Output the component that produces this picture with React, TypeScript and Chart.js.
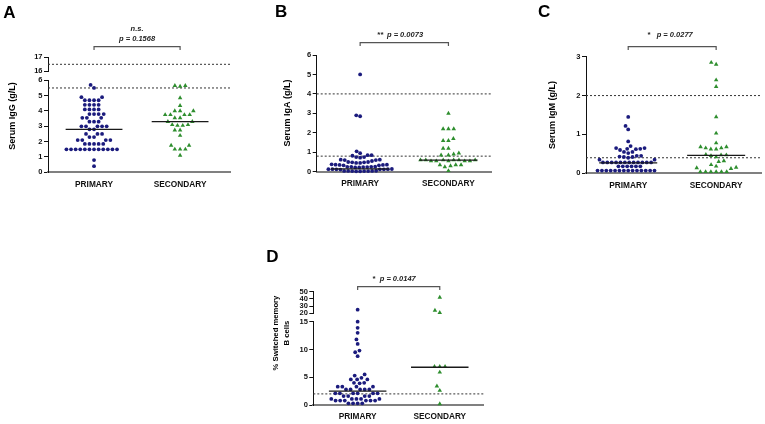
import React, { useEffect, useRef } from 'react';
import { Chart, registerables } from 'chart.js';
Chart.register(...registerables);

const FONT = '"Liberation Sans", Arial, Helvetica, sans-serif';
const NAVY = '#1b1b7d';
const GREEN = '#2e8e2e';

const categories = ['PRIMARY', 'SECONDARY'];

// ---------- Panel A: Serum IgG ----------
const igGPrimary = [5.7, 5.5, 4.9, 4.9, 4.7, 4.7, 4.7, 4.7, 4.4, 4.4, 4.4, 4.4, 4.1, 4.1, 4.1, 4.1,
  3.8, 3.8, 3.8, 3.8, 3.55, 3.55, 3.55, 3.3, 3.3, 3.3, 3.0, 3.0, 3.0, 3.0, 3.0, 2.8, 2.8,
  2.5, 2.5, 2.5, 2.3, 2.3, 2.1, 2.1, 2.1, 2.1, 1.85, 1.85, 1.85, 1.85, 1.85,
  1.5, 1.5, 1.5, 1.5, 1.5, 1.5, 1.5, 1.5, 1.5, 1.5, 1.5, 1.5, 0.8, 0.4];
const igGSecondary = [5.65, 5.6, 5.65, 4.85, 4.35, 4.0, 4.0, 4.0, 3.75, 3.75, 3.75, 3.75, 3.55, 3.55,
  3.3, 3.3, 3.1, 3.1, 3.05, 3.05, 2.75, 2.75, 2.4, 1.75, 1.75, 1.5, 1.5, 1.5, 1.1];
const igGMedians = [2.8, 3.3];
const igGRefLines = [5.5, 16.5];
const igGLowerTicks = [0, 1, 2, 3, 4, 5, 6];
const igGUpperTicks = [16, 17];
const igGTitle = ['Serum IgG (g/L)'];
const igGSig = 'n.s.';
const igGP = 'p = 0.1568';

// ---------- Panel B: Serum IgA ----------
const igAPrimary = [5.0, 2.9, 2.85, 1.05, 0.95, 0.85, 0.85, 0.82, 0.75, 0.75, 0.72,
  0.62, 0.62, 0.6, 0.6, 0.55,
  0.5, 0.5, 0.48, 0.48, 0.45, 0.45,
  0.38, 0.36, 0.36, 0.35, 0.35, 0.33, 0.33,
  0.26, 0.25, 0.25, 0.25, 0.24, 0.24, 0.22, 0.22,
  0.14, 0.13, 0.13, 0.13, 0.12, 0.12, 0.12, 0.11,
  0.05, 0.04, 0.04, 0.04, 0.03, 0.03, 0.03, 0.02, 0.02];
const igASecondary = [3.0, 2.2, 2.2, 2.2, 1.7, 1.6, 1.6, 1.2, 1.2, 0.95, 0.9, 0.85, 0.85,
  0.6, 0.6, 0.6, 0.6, 0.55, 0.55, 0.55, 0.55, 0.55, 0.6, 0.6, 0.35, 0.35, 0.35, 0.3, 0.25, 0.05];
const igAMedians = [0.15, 0.6];
const igARefLines = [4.0, 0.8];
const igATicks = [0, 1, 2, 3, 4, 5, 6];
const igATitle = ['Serum IgA (g/L)'];
const igASig = '**';
const igAP = 'p = 0.0073';

// ---------- Panel C: Serum IgM ----------
const igMPrimary = [1.45, 1.22, 1.13, 0.82, 0.7, 0.65, 0.65, 0.63, 0.63, 0.62, 0.6, 0.55, 0.55, 0.52,
  0.45, 0.45, 0.43, 0.42, 0.42, 0.4, 0.35, 0.35,
  0.28, 0.28, 0.28, 0.28, 0.28, 0.28, 0.28, 0.28, 0.28, 0.28, 0.28, 0.28,
  0.18, 0.18, 0.18, 0.18, 0.18, 0.18,
  0.07, 0.07, 0.07, 0.07, 0.07, 0.07, 0.07, 0.07, 0.07, 0.07, 0.07, 0.07, 0.07, 0.07];
const igMSecondary = [2.85, 2.8, 2.4, 2.23, 1.45, 1.03, 0.78, 0.68, 0.68, 0.65, 0.65, 0.62, 0.62,
  0.48, 0.47, 0.47, 0.45, 0.42, 0.32, 0.3, 0.22, 0.15, 0.14, 0.12, 0.18,
  0.04, 0.04, 0.04, 0.04, 0.04, 0.04];
const igMMedians = [0.27, 0.46];
const igMRefLines = [2.0, 0.4];
const igMTicks = [0, 1, 2, 3];
const igMTitle = ['Serum IgM (g/L)'];
const igMSig = '*';
const igMP = 'p = 0.0277';

// ---------- Panel D: % switched memory B cells ----------
const smbPrimary = [25, 15, 13.9, 13, 11.8, 11, 9.8, 9.5, 8.8, 5.5, 5.3, 4.9, 4.6, 4.6, 4.6,
  4.0, 4.0, 3.9, 3.3, 3.3, 3.3, 3.3, 2.8, 2.8, 2.8, 2.8, 2.8,
  2.1, 2.1, 2.1, 2.1, 2.1, 2.1, 1.6, 1.6, 1.6, 1.6, 1.1, 1.1, 1.1, 1.1, 1.1,
  0.8, 0.8, 0.8, 0.8, 0.8, 0.8, 0.3, 0.3, 0.3, 0.3];
const smbSecondary = [42, 24, 21, 6.9, 6.9, 6.9, 5.9, 3.4, 2.6, 0.2];
const smbMedians = [2.5, 6.8];
const smbRefLines = [2.0];
const smbLowerTicks = [0, 5, 10, 15];
const smbUpperTicks = [20, 30, 40, 50];
const smbTitle = ['% Switched memory', 'B cells'];
const smbSig = '*';
const smbP = 'p = 0.0147';

type Seg = { min: number; max: number; ticks: number[]; weight: number };
type Panel = {
  key: string;
  letter: string;
  box: { left: number; top: number; width: number; height: number };
  plot: { left: number; top: number; right: number; bottom: number };
  xRange: [number, number];
  lower: Seg;
  upper?: Seg;
  gap?: number;
  primary: number[];
  secondary: number[];
  dotGap: number;
  medians: number[];
  refLines: number[];
  medianHalf: number;
  letterPos: [number, number];
  title: string[];
  titlePos: [number, number];
  titleFont: number;
  titleGap: number;
  bracketY: number;
  sig: string;
  pText: string;
  twoLineSig: boolean;
  sigY: number;
  starRight: number;
  pLeft: number;
};

const panels: Panel[] = [
  {
    key: 'A', letter: 'A',
    box: { left: 0, top: 0, width: 255, height: 212 },
    plot: { left: 48, top: 57.3, right: 230, bottom: 172.3 },
    xRange: [0.465, 2.58],
    lower: { min: 0, max: 6, ticks: igGLowerTicks, weight: 92 },
    gap: 9,
    upper: { min: 16, max: 17, ticks: igGUpperTicks, weight: 14 },
    primary: igGPrimary, secondary: igGSecondary, dotGap: 4.6, medians: igGMedians, refLines: igGRefLines,
    medianHalf: 0.33,
    letterPos: [3.3, 17.7], title: igGTitle, titlePos: [13, 116], titleFont: 9, titleGap: 11,
    bracketY: 46.7, sig: igGSig, pText: igGP, twoLineSig: true, sigY: 29, starRight: 0, pLeft: 0,
  },
  {
    key: 'B', letter: 'B',
    box: { left: 255, top: 0, width: 255, height: 212 },
    plot: { left: 61.7, top: 55, right: 236.7, bottom: 171.7 },
    xRange: [0.508, 2.49],
    lower: { min: 0, max: 6, ticks: igATicks, weight: 1 },
    primary: igAPrimary, secondary: igASecondary, dotGap: 4.0, medians: igAMedians, refLines: igARefLines,
    medianHalf: 0.33,
    letterPos: [20, 17.3], title: igATitle, titlePos: [33, 113], titleFont: 9, titleGap: 11,
    bracketY: 42.7, sig: igASig, pText: igAP, twoLineSig: false, sigY: 34.7, starRight: -20.7, pLeft: -17.3,
  },
  {
    key: 'C', letter: 'C',
    box: { left: 510, top: 0, width: 255, height: 212 },
    plot: { left: 76, top: 56.7, right: 251.7, bottom: 173.3 },
    xRange: [0.52, 2.51],
    lower: { min: 0, max: 3, ticks: igMTicks, weight: 1 },
    primary: igMPrimary, secondary: igMSecondary, dotGap: 4.4, medians: igMMedians, refLines: igMRefLines,
    medianHalf: 0.33,
    letterPos: [28, 17], title: igMTitle, titlePos: [42.7, 115], titleFont: 9, titleGap: 11,
    bracketY: 46.7, sig: igMSig, pText: igMP, twoLineSig: false, sigY: 34.7, starRight: -21.5, pLeft: -15.5,
  },
  {
    key: 'D', letter: 'D',
    box: { left: 250, top: 212, width: 270, height: 212 },
    plot: { left: 63.3, top: 79.7, right: 233.3, bottom: 193 },
    xRange: [0.46, 2.53],
    lower: { min: 0, max: 15, ticks: smbLowerTicks, weight: 83.3 },
    gap: 8.4,
    upper: { min: 20, max: 50, ticks: smbUpperTicks, weight: 21.6 },
    primary: smbPrimary, secondary: smbSecondary, dotGap: 4.6, medians: smbMedians, refLines: smbRefLines,
    medianHalf: 0.35,
    letterPos: [16.3, 49.7], title: smbTitle, titlePos: [31.5, 121], titleFont: 7.7, titleGap: 11,
    bracketY: 74.7, sig: smbSig, pText: smbP, twoLineSig: false, sigY: 67, starRight: -23, pLeft: -19,
  },
];

function segPx(p: Panel, v: number): number {
  const plotH = p.plot.bottom - p.plot.top;
  const total = p.lower.weight + (p.gap || 0) + (p.upper ? p.upper.weight : 0);
  const lowerH = (plotH * p.lower.weight) / total;
  if (!p.upper || v <= p.lower.max) return ((v - p.lower.min) / (p.lower.max - p.lower.min)) * lowerH;
  const gapH = (plotH * (p.gap || 0)) / total;
  const upH = (plotH * p.upper.weight) / total;
  return lowerH + gapH + ((v - p.upper.min) / (p.upper.max - p.upper.min)) * upH;
}

// Beeswarm: horizontal pixel offsets so that markers do not overlap
function swarmOffsets(values: number[], toPx: (v: number) => number, d: number): number[] {
  const order = values.map((_, i) => i).sort((a, b) => values[a] - values[b]);
  const out = new Array(values.length).fill(0);
  const placed: { x: number; y: number }[] = [];
  const d2 = d * d;
  for (const i of order) {
    const y = toPx(values[i]);
    const near = placed.filter((q) => Math.abs(q.y - y) < d);
    const cands = [0];
    for (const q of near) {
      const dx = Math.sqrt(d2 - (q.y - y) * (q.y - y));
      cands.push(q.x + dx, q.x - dx);
    }
    cands.sort((a, b) => Math.abs(a) - Math.abs(b) || a - b);
    let x = 0;
    for (const c of cands) {
      if (near.every((q) => (q.x - c) * (q.x - c) + (q.y - y) * (q.y - y) >= d2 - 1e-6)) { x = c; break; }
    }
    placed.push({ x, y });
    out[i] = x;
  }
  return out;
}

function makeAnnot(p: Panel) {
  return {
    id: 'annot' + p.key,
    afterDraw(chart: any) {
      const ctx: CanvasRenderingContext2D = chart.ctx;
      const xs = chart.scales.x;
      ctx.save();
      ctx.fillStyle = '#000';
      ctx.font = `bold 17px ${FONT}`;
      ctx.textAlign = 'left';
      ctx.textBaseline = 'alphabetic';
      ctx.fillText(p.letter, p.letterPos[0], p.letterPos[1]);
      ctx.save();
      ctx.translate(p.titlePos[0], p.titlePos[1]);
      ctx.rotate(-Math.PI / 2);
      ctx.font = `bold ${p.titleFont}px ${FONT}`;
      ctx.textAlign = 'center';
      ctx.textBaseline = 'middle';
      p.title.forEach((t, i) => ctx.fillText(t, 0, (i - (p.title.length - 1) / 2) * p.titleGap));
      ctx.restore();
      const x1 = xs.getPixelForValue(1);
      const x2 = xs.getPixelForValue(2);
      ctx.strokeStyle = '#555';
      ctx.lineWidth = 1.2;
      ctx.beginPath();
      ctx.moveTo(x1, p.bracketY + 3.3);
      ctx.lineTo(x1, p.bracketY);
      ctx.lineTo(x2, p.bracketY);
      ctx.lineTo(x2, p.bracketY + 3.3);
      ctx.stroke();
      const cx = (x1 + x2) / 2;
      ctx.textBaseline = 'middle';
      ctx.fillStyle = '#222';
      if (p.twoLineSig) {
        ctx.textAlign = 'center';
        ctx.font = `italic bold 7.5px ${FONT}`;
        ctx.fillText(p.sig, cx, p.sigY);
        ctx.fillText(p.pText, cx, p.sigY + 9.5);
      } else {
        ctx.textAlign = 'right';
        ctx.font = `bold 8px ${FONT}`;
        ctx.fillText(p.sig, cx + p.starRight, p.sigY);
        ctx.textAlign = 'left';
        ctx.font = `italic bold 7.5px ${FONT}`;
        ctx.fillText(p.pText, cx + p.pLeft, p.sigY);
      }
      ctx.restore();
    },
  };
}

function buildConfig(p: Panel): any {
  const plotW = p.plot.right - p.plot.left;
  const pxPerX = plotW / (p.xRange[1] - p.xRange[0]);
  const toPx = (v: number) => segPx(p, v);
  const mk = (vals: number[], cat: number, d: number) => {
    const offs = swarmOffsets(vals, toPx, d);
    return vals.map((v, i) => ({ x: cat + offs[i] / pxPerX, y: v }));
  };
  const prim = mk(p.primary, 1, p.dotGap);
  const sec = mk(p.secondary, 2, 5.3);
  const isUp = (v: number) => !!p.upper && v > p.lower.max;

  const datasets: any[] = [];
  p.medians.forEach((m, i) => {
    datasets.push({
      data: [{ x: i + 1 - p.medianHalf, y: m }, { x: i + 1 + p.medianHalf, y: m }],
      showLine: true, pointRadius: 0, borderColor: '#1a1a1a', borderWidth: 1.3,
      yAxisID: 'y', clip: false,
    });
  });
  const pointDs = (pts: any[], up: boolean, color: string, style: string, r: number) => ({
    data: pts.filter((q) => isUp(q.y) === up),
    pointStyle: style, pointRadius: r, backgroundColor: color, borderColor: color, borderWidth: 0,
    yAxisID: up ? 'yTop' : 'y', clip: false,
  });
  datasets.push(pointDs(prim, false, NAVY, 'circle', 1.9));
  datasets.push(pointDs(sec, false, GREEN, 'triangle', 2.6));
  if (p.upper) {
    datasets.push(pointDs(prim, true, NAVY, 'circle', 1.9));
    datasets.push(pointDs(sec, true, GREEN, 'triangle', 2.6));
  }
  p.refLines.forEach((r) => {
    datasets.push({
      data: [{ x: p.xRange[0], y: r }, { x: p.xRange[1], y: r }],
      showLine: true, pointRadius: 0, borderColor: '#333', borderWidth: 1, borderDash: [2, 2],
      yAxisID: isUp(r) ? 'yTop' : 'y', clip: false,
    });
  });

  const tickFont = { family: FONT, size: 7.5, weight: 'bold' as const };
  const yAxis = (seg: Seg, extra: any = {}) => ({
    type: 'linear', position: 'left', min: seg.min, max: seg.max,
    afterBuildTicks: (s: any) => { s.ticks = seg.ticks.map((v) => ({ value: v })); },
    afterFit: (s: any) => { s.width = p.plot.left; },
    grid: { display: true, drawOnChartArea: false, drawTicks: true, tickLength: 4, color: '#111', lineWidth: 1 },
    border: { display: true, color: '#111', width: 1 },
    ticks: { font: tickFont, color: '#111', padding: 1.5, autoSkip: false },
    ...extra,
  });

  const scales: any = {
    x: {
      type: 'linear', position: 'bottom', min: p.xRange[0], max: p.xRange[1],
      afterBuildTicks: (s: any) => { s.ticks = categories.map((_, i) => ({ value: i + 1 })); },
      afterFit: (s: any) => { s.height = p.box.height - p.plot.bottom; },
      grid: { display: false, drawTicks: false },
      border: { display: true, color: '#808080', width: 2 },
      ticks: {
        callback: (v: any) => categories[Math.round(Number(v)) - 1] ?? '',
        font: { family: FONT, size: 8.3, weight: 'bold' }, color: '#111', padding: 7,
        maxRotation: 0, autoSkip: false,
      },
    },
  };
  if (p.upper) {
    scales.y = yAxis(p.lower, { stack: 'ys', stackWeight: p.lower.weight });
    scales.yGap = {
      type: 'linear', position: 'left', min: 0, max: 1, stack: 'ys', stackWeight: p.gap,
      afterBuildTicks: (s: any) => { s.ticks = []; },
      afterFit: (s: any) => { s.width = p.plot.left; },
      grid: { display: false, drawTicks: false }, border: { display: false },
      ticks: { display: false },
    };
    scales.yTop = yAxis(p.upper, { stack: 'ys', stackWeight: p.upper.weight });
  } else {
    scales.y = yAxis(p.lower);
  }

  return {
    type: 'scatter',
    data: { datasets },
    options: {
      animation: false, responsive: false, devicePixelRatio: 1, events: [],
      layout: { padding: { left: 0, top: p.plot.top, right: p.box.width - p.plot.right, bottom: 0 } },
      plugins: { legend: { display: false }, tooltip: { enabled: false } },
      scales,
    },
    plugins: [makeAnnot(p)],
  };
}

function PanelChart({ p }: { p: Panel }) {
  const ref = useRef<HTMLCanvasElement | null>(null);
  useEffect(() => {
    if (!ref.current) return;
    const chart = new Chart(ref.current, buildConfig(p));
    return () => chart.destroy();
  }, [p]);
  return (
    <canvas
      ref={ref}
      width={p.box.width}
      height={p.box.height}
      style={{ position: 'absolute', left: p.box.left, top: p.box.top, width: p.box.width, height: p.box.height }}
    />
  );
}

export default function App() {
  return (
    <div style={{ position: 'fixed', left: 0, top: 0, width: 765, height: 424, background: '#fff', overflow: 'hidden' }}>
      {panels.map((p) => <PanelChart key={p.key} p={p} />)}
    </div>
  );
}
